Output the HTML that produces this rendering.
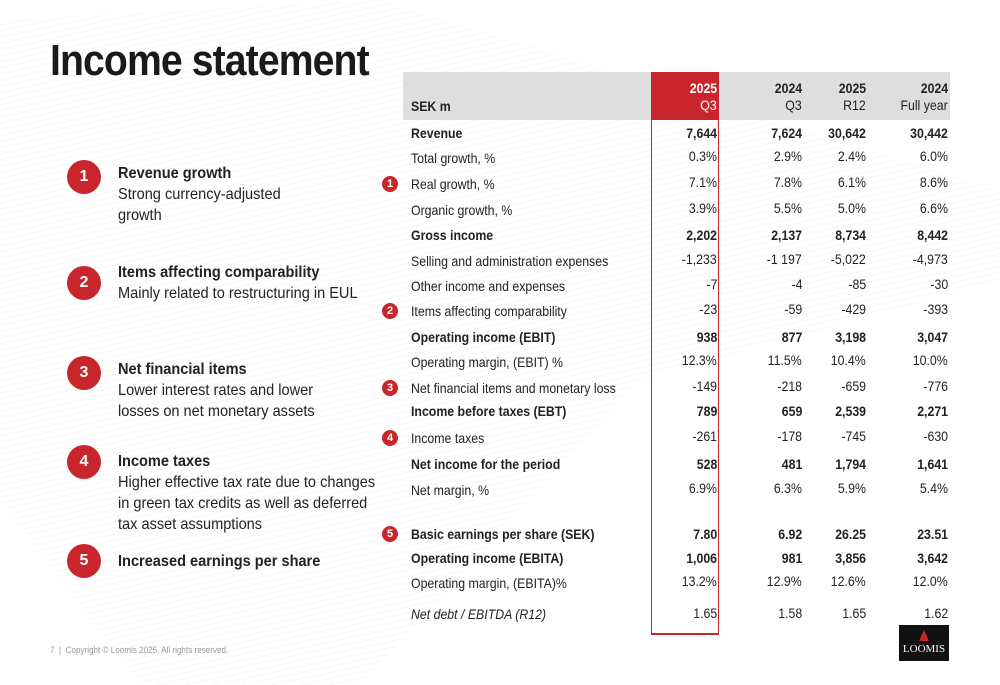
<!DOCTYPE html><html><head><meta charset="utf-8"><style>
body{margin:0;width:1000px;height:685px;position:relative;overflow:hidden;background:#fff;font-family:"Liberation Sans Narrow","Liberation Sans",sans-serif;color:#222}
.a{position:absolute;white-space:nowrap}
.t{font-size:14px;line-height:16px;transform:scaleX(.88);transform-origin:0 0}
.t.r{transform-origin:100% 0}
.b{font-weight:bold}
.r{text-align:right}
.c{position:absolute;border-radius:50%;background:#c8252c;color:#fff;font-weight:bold;text-align:center;font-family:"Liberation Sans",sans-serif}
.big{width:34px;height:34px;line-height:34px;font-size:16px}
.sm{width:16px;height:16px;line-height:16px;font-size:11px}
.h{font-size:16px;line-height:21px;transform:scaleX(.91);transform-origin:0 0}
</style></head><body>
<svg class="a" style="left:0;top:0" width="1000" height="685"><defs><pattern id="p" width="6" height="6" patternUnits="userSpaceOnUse" patternTransform="rotate(-12)"><line x1="0" y1="0" x2="6" y2="0" stroke="#eee" stroke-width="2"/></pattern></defs>
<polygon points="0,20 380,0 1000,190 1000,280 640,380 360,685 140,685 0,500" fill="url(#p)" opacity="0.45"/></svg>
<div class="a b" style="left:50px;top:36px;font-size:44px;letter-spacing:-1px;color:#1a1a1a;transform:scaleX(.89);transform-origin:0 0">Income statement</div>
<div class="a" style="left:403px;top:72px;width:547px;height:48px;background:#dedede"></div>
<div class="a" style="left:651px;top:72px;width:67px;height:48px;background:#c8252c"></div>
<div class="a" style="left:651px;top:72px;width:66px;height:560px;border:1px solid #c8252c;border-bottom:2px solid #c8252c"></div>
<div class="a t b" style="left:411px;top:98px">SEK m</div>
<div class="a t r b" style="right:283px;top:80px;color:#fff">2025</div><div class="a t r" style="right:283px;top:97px;color:#fff">Q3</div>
<div class="a t r b" style="right:198px;top:80px">2024</div><div class="a t r" style="right:198px;top:97px">Q3</div>
<div class="a t r b" style="right:134px;top:80px">2025</div><div class="a t r" style="right:134px;top:97px">R12</div>
<div class="a t r b" style="right:52px;top:80px">2024</div><div class="a t r" style="right:52px;top:97px">Full year</div>
<div id="rows"></div>
<div class="c big" style="left:67px;top:160px">1</div>
<div class="c big" style="left:67px;top:266px">2</div>
<div class="c big" style="left:67px;top:356px">3</div>
<div class="c big" style="left:67px;top:445px">4</div>
<div class="c big" style="left:67px;top:544px">5</div>
<div class="a h" style="left:118px;top:163px"><b>Revenue growth</b><br>Strong currency-adjusted<br>growth</div>
<div class="a h" style="left:118px;top:262px"><b>Items affecting comparability</b><br>Mainly related to restructuring in EUL</div>
<div class="a h" style="left:118px;top:359px"><b>Net financial items</b><br>Lower interest rates and lower<br>losses on net monetary assets</div>
<div class="a h" style="left:118px;top:451px"><b>Income taxes</b><br>Higher effective tax rate due to changes<br>in green tax credits as well as deferred<br>tax asset assumptions</div>
<div class="a h b" style="left:118px;top:551px">Increased earnings per share</div>
<div class="a" style="left:50px;top:645px;font-size:9px;color:#999;transform:scaleX(.9);transform-origin:0 0">7 &nbsp;| &nbsp;Copyright © Loomis 2025. All rights reserved.</div>
<div class="a" style="left:899px;top:625px;width:50px;height:36px;background:#111;color:#fff;text-align:center;font-family:'Liberation Serif',serif;font-size:11px">
<div style="width:0;height:0;margin:5px auto 2px;border-left:5px solid transparent;border-right:5px solid transparent;border-bottom:11px solid #c8252c"></div>LOOMIS</div>
<script>
var R=[["Revenue",125,1,"7,644","7,624","30,642","30,442"],["Total growth, %",150,0,"0.3%","2.9%","2.4%","6.0%"],["Real growth, %",176,0,"7.1%","7.8%","6.1%","8.6%",1],["Organic growth, %",202,0,"3.9%","5.5%","5.0%","6.6%"],["Gross income",227,1,"2,202","2,137","8,734","8,442"],["Selling and administration expenses",253,0,"-1,233","-1 197","-5,022","-4,973"],["Other income and expenses",278,0,"-7","-4","-85","-30"],["Items affecting comparability",303,0,"-23","-59","-429","-393",2],["Operating income (EBIT)",329,1,"938","877","3,198","3,047"],["Operating margin, (EBIT) %",354,0,"12.3%","11.5%","10.4%","10.0%"],["Net financial items and monetary loss",380,0,"-149","-218","-659","-776",3],["Income before taxes (EBT)",403,1,"789","659","2,539","2,271"],["Income taxes",430,0,"-261","-178","-745","-630",4],["Net income for the period",456,1,"528","481","1,794","1,641"],["Net margin, %",482,0,"6.9%","6.3%","5.9%","5.4%"],["Basic earnings per share (SEK)",526,1,"7.80","6.92","26.25","23.51",5],["Operating income (EBITA)",550,1,"1,006","981","3,856","3,642"],["Operating margin, (EBITA)%",575,0,"13.2%","12.9%","12.6%","12.0%"],["Net debt / EBITDA (R12)",606,2,"1.65","1.58","1.65","1.62"]];
var h="",rt=[283,198,134,52];
R.forEach(function(r){var lab=r[2]==1?"b":"";var st=r[2]==2?"font-style:italic;":"";
h+='<div class="a t '+lab+'" style="left:411px;top:'+r[1]+'px;'+st+'">'+r[0]+'</div>';
var vy=r[2]==2?r[1]-1:(r[2]==1?r[1]:r[1]-2);
for(var i=0;i<4;i++)h+='<div class="a t r '+(r[2]==1?"b":"")+'" style="right:'+rt[i]+'px;top:'+vy+'px">'+r[3+i]+'</div>';
if(r[7])h+='<div class="c sm" style="left:382px;top:'+r[1]+'px">'+r[7]+'</div>';});
document.getElementById("rows").innerHTML=h;
</script>
</body></html>
